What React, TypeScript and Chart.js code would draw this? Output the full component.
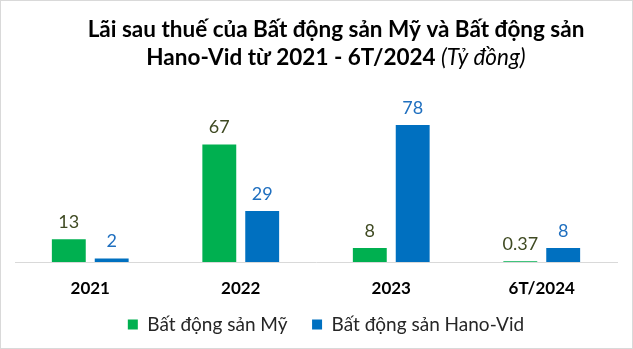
import React, { useEffect, useRef } from 'react';
import { Chart, registerables } from 'chart.js';

Chart.register(...registerables);

const categories = ['2021', '2022', '2023', '6T/2024'];
const seriesMy = [13, 67, 8, 0.37];
const seriesHanoVid = [2, 29, 78, 8];
const seriesNames = ['Bất động sản Mỹ', 'Bất động sản Hano-Vid'];
const seriesColors = ['#00b050', '#0070c0'];
const labelColors = ['#3f4a22', '#1f6fbf'];
const titleLine1 = 'Lãi sau thuế của Bất động sản Mỹ và Bất động sản';
const titleLine2Bold = 'Hano-Vid từ 2021 - 6T/2024 ';
const titleLine2Italic = '(Tỷ đồng)';
const yMax = 90;

const FONT = "Lato, 'DejaVu Sans', sans-serif";
const LEGEND_DX = 10;
const LEGEND_DY = -8;

const framePlugin = {
  id: 'frame',
  beforeDraw(chart: any) {
    const { ctx, width, height } = chart;
    ctx.save();
    ctx.fillStyle = '#ffffff';
    ctx.fillRect(0, 0, width, height);
    ctx.restore();
  },
  afterDraw(chart: any) {
    const { ctx, width, height } = chart;
    ctx.save();
    ctx.strokeStyle = '#d9d9d9';
    ctx.lineWidth = 1;
    ctx.strokeRect(0.5, 0.5, width - 1, height - 1);
    ctx.restore();
  },
};

const legendShiftPlugin = {
  id: 'legendShift',
  afterLayout(chart: any) {
    const lg = chart.legend;
    if (!lg) return;
    lg.left += LEGEND_DX;
    lg.right += LEGEND_DX;
    lg.top += LEGEND_DY;
    lg.bottom += LEGEND_DY;
  },
};

const titlePlugin = {
  id: 'customTitle',
  afterDraw(chart: any) {
    const ctx = chart.ctx;
    const cx = 336;
    const size = 22.5;
    ctx.save();
    ctx.fillStyle = '#000000';
    ctx.textAlign = 'left';
    ctx.textBaseline = 'alphabetic';
    ctx.font = `bold ${size}px ${FONT}`;
    const w1 = ctx.measureText(titleLine1).width;
    ctx.fillText(titleLine1, cx - w1 / 2, 37);
    const wb = ctx.measureText(titleLine2Bold).width;
    ctx.font = `italic ${size}px ${FONT}`;
    const wi = ctx.measureText(titleLine2Italic).width;
    const x0 = cx - (wb + wi) / 2;
    ctx.font = `bold ${size}px ${FONT}`;
    ctx.fillText(titleLine2Bold, x0, 65);
    ctx.font = `italic ${size}px ${FONT}`;
    ctx.fillText(titleLine2Italic, x0 + wb, 65);
    ctx.restore();
  },
};

const valueLabelPlugin = {
  id: 'valueLabels',
  afterDatasetsDraw(chart: any) {
    const ctx = chart.ctx;
    ctx.save();
    ctx.textAlign = 'center';
    ctx.textBaseline = 'alphabetic';
    ctx.font = `18px ${FONT}`;
    chart.data.datasets.forEach((ds: any, i: number) => {
      const meta = chart.getDatasetMeta(i);
      ctx.fillStyle = labelColors[i];
      meta.data.forEach((bar: any, j: number) => {
        ctx.fillText(String(ds.data[j]), bar.x, bar.y - 11);
      });
    });
    ctx.restore();
  },
};

export default function App() {
  const ref = useRef<HTMLCanvasElement>(null);
  useEffect(() => {
    if (!ref.current) return;
    const chart = new Chart(ref.current, {
      type: 'bar',
      data: {
        labels: categories,
        datasets: [
          {
            label: seriesNames[0],
            data: seriesMy,
            backgroundColor: seriesColors[0],
            categoryPercentage: 0.57,
            barPercentage: 0.79,
          },
          {
            label: seriesNames[1],
            data: seriesHanoVid,
            backgroundColor: seriesColors[1],
            categoryPercentage: 0.57,
            barPercentage: 0.79,
          },
        ],
      },
      options: {
        responsive: false,
        animation: false,
        layout: { padding: { top: 104, left: 15, right: 16, bottom: -2.9 } },
        plugins: {
          title: { display: false },
          tooltip: { enabled: false },
          legend: {
            position: 'bottom',
            labels: {
              boxWidth: 10,
              boxHeight: 10,
              color: '#262626',
              font: { family: FONT, size: 19 },
              padding: 24.5,
            },
          },
        },
        scales: {
          x: {
            grid: {
              display: true,
              drawOnChartArea: false,
              drawTicks: true,
              tickLength: 16,
              color: 'rgba(0,0,0,0)',
            },
            border: { display: true, color: '#d9d9d9', width: 1 },
            ticks: {
              color: '#000000',
              font: { family: FONT, size: 17, weight: 'bold' },
              padding: 0,
            },
          },
          y: {
            display: false,
            min: 0,
            max: yMax,
          },
        },
      },
      plugins: [framePlugin, legendShiftPlugin, titlePlugin, valueLabelPlugin],
    });
    return () => chart.destroy();
  }, []);
  return (
    <div style={{ position: 'absolute', left: 0, top: 0, width: 633, height: 349 }}>
      <canvas ref={ref} width={633} height={349} />
    </div>
  );
}
